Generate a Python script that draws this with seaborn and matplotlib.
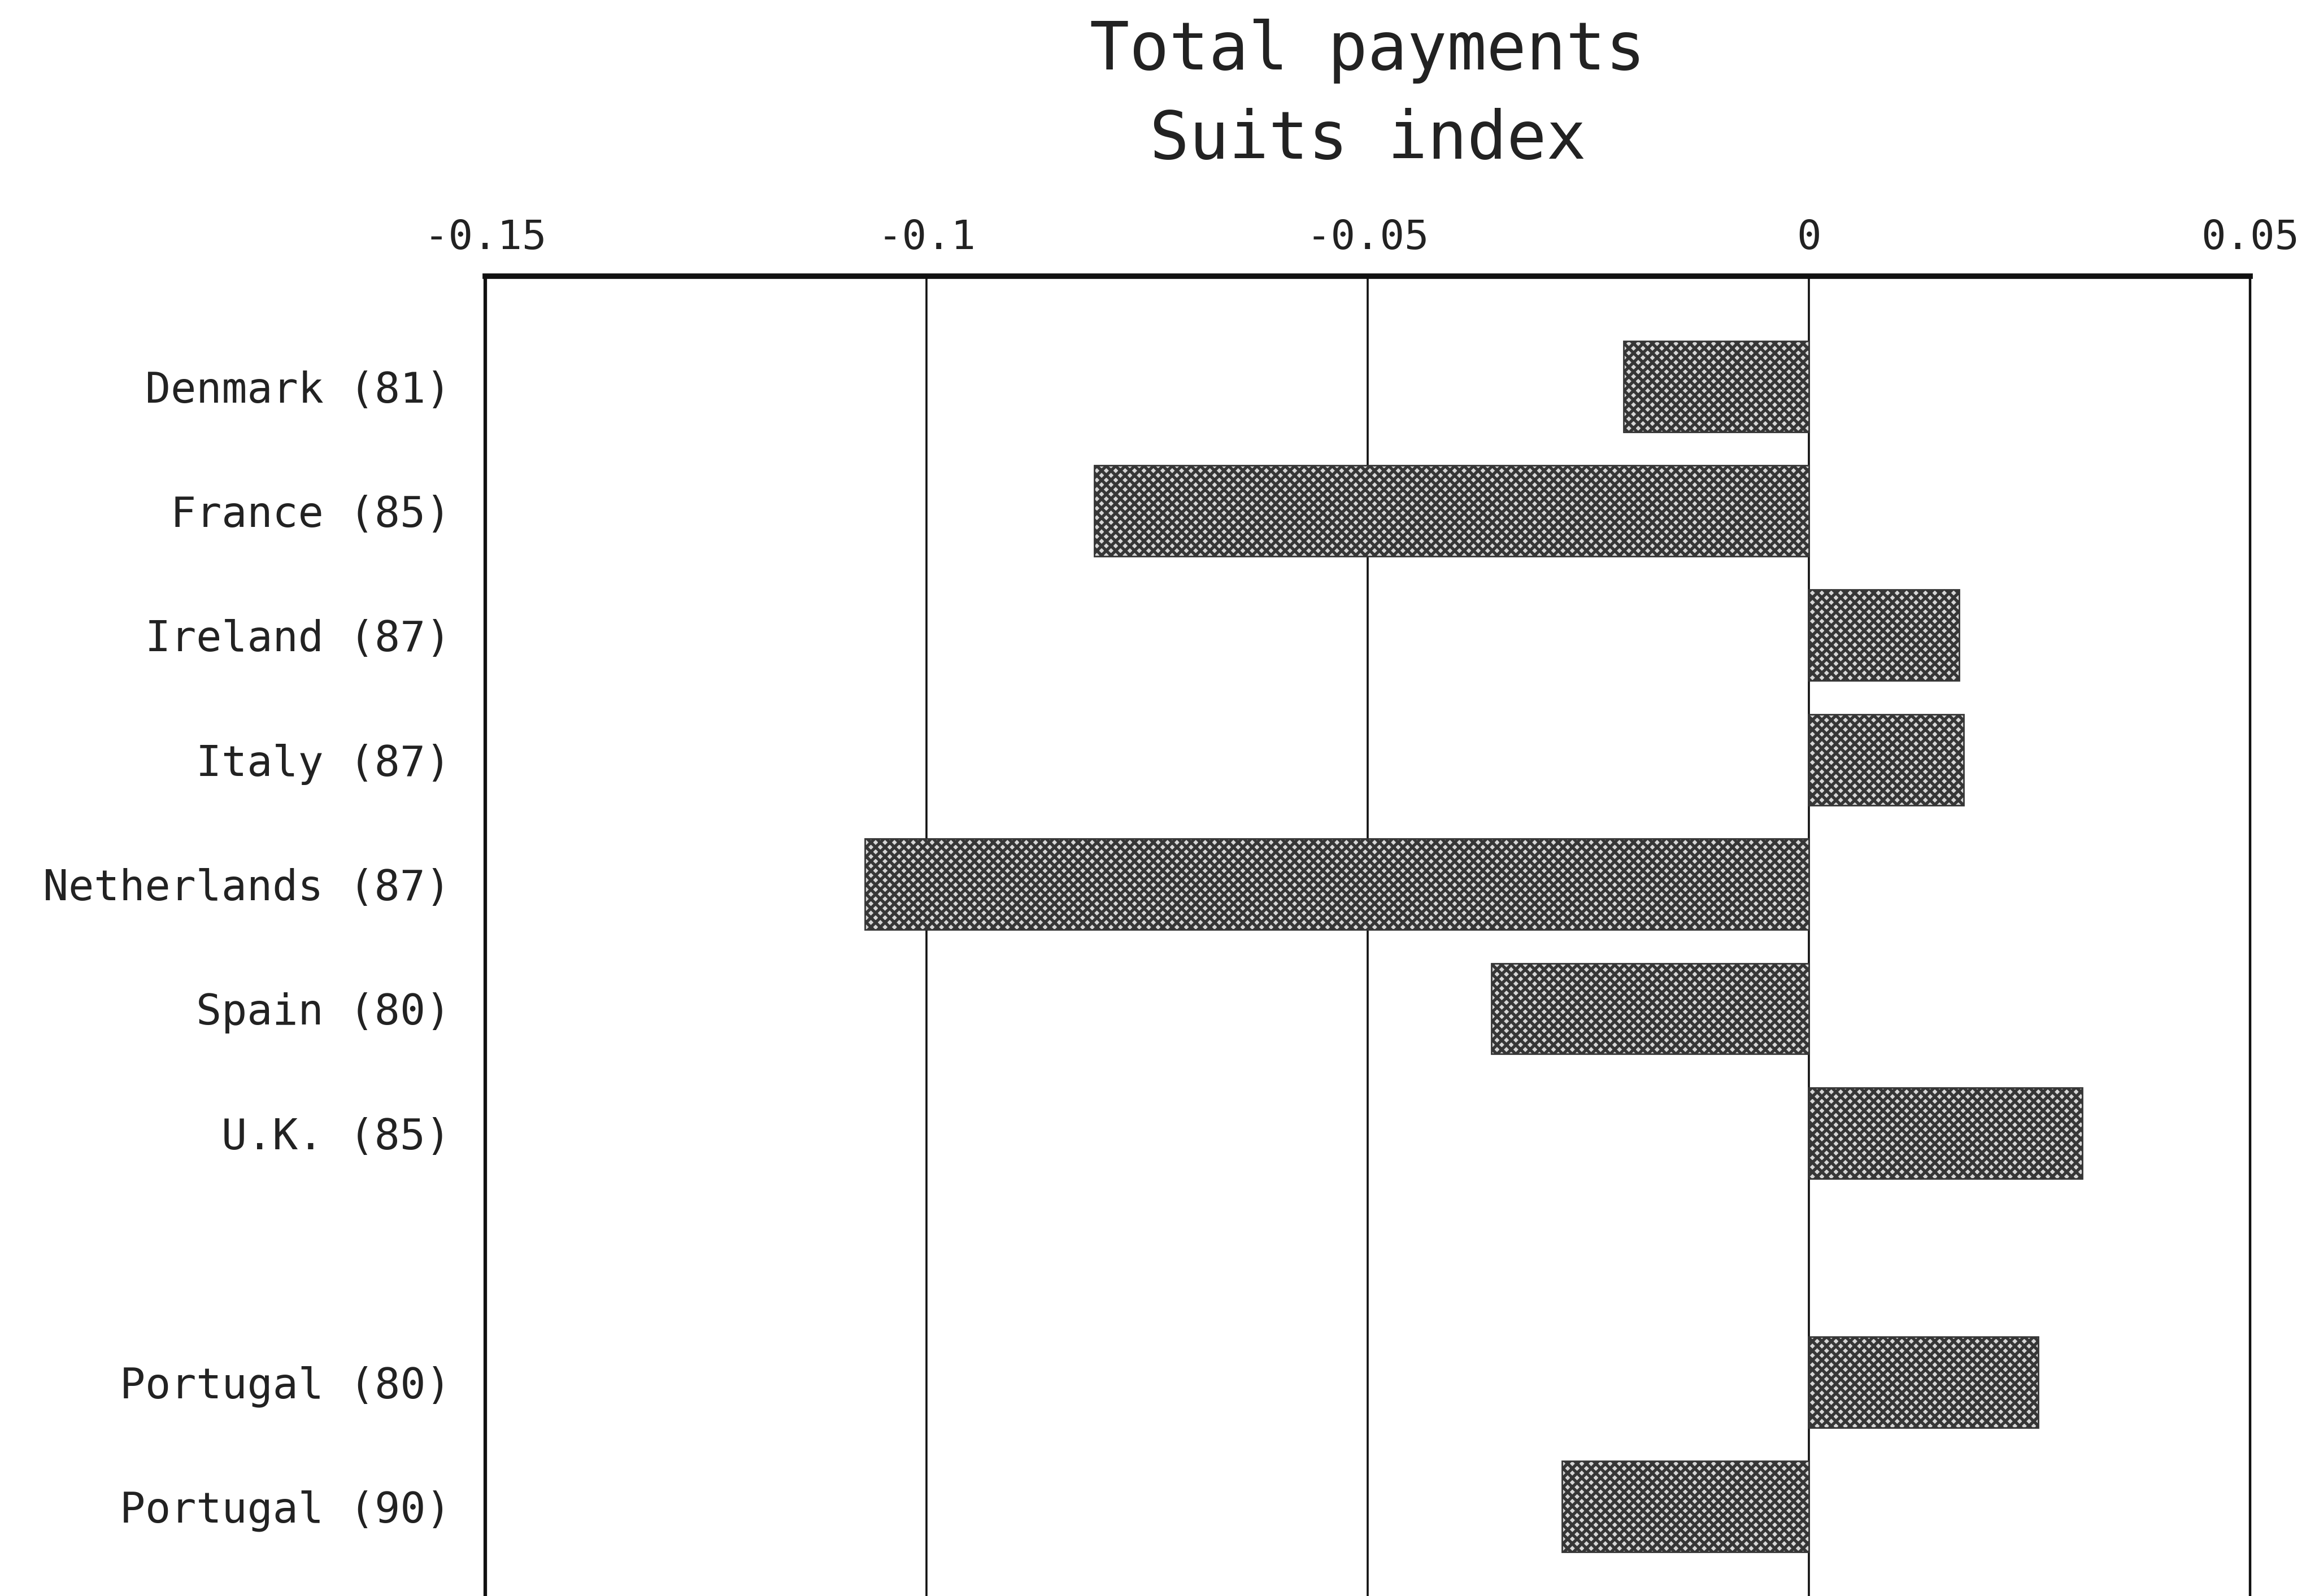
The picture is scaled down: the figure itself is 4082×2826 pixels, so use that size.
import matplotlib
matplotlib.use("Agg")
import matplotlib.pyplot as plt
import seaborn as sns
import pandas as pd

# ---- data ----
categories = ["Denmark (81)", "France (85)", "Ireland (87)", "Italy (87)",
              "Netherlands (87)", "Spain (80)", "U.K. (85)",
              "Portugal (80)", "Portugal (90)"]
suits_values = [-0.021, -0.081, 0.017, 0.0175, -0.107, -0.036, 0.031, 0.026, -0.028]
# display order (blank slot between U.K. and Portugal)
display_order = ["Denmark (81)", "France (85)", "Ireland (87)", "Italy (87)",
                 "Netherlands (87)", "Spain (80)", "U.K. (85)", " ",
                 "Portugal (80)", "Portugal (90)"]
x_ticks = [-0.15, -0.1, -0.05, 0, 0.05]
x_tick_labels = ["-0.15", "-0.1", "-0.05", "0", "0.05"]
title_text = "Total payments"
subtitle_text = "Suits index"

df = pd.DataFrame({"country": categories, "suits": suits_values})

DPI = 100
sns.set_theme(style="white")
plt.rcParams["font.family"] = ["DejaVu Sans Mono", "DejaVu Sans"]
plt.rcParams["hatch.linewidth"] = 3.9
plt.rcParams["hatch.color"] = "#363636"

fig = plt.figure(figsize=(4082 / DPI, 2826 / DPI), dpi=DPI)
fig.patch.set_facecolor("white")
ax = fig.add_axes([0.2105, -0.0129, 0.7653, 0.8398])

sns.barplot(data=df, x="suits", y="country", order=display_order, orient="h",
            color="#d6d6d6", width=0.73, edgecolor="#222222", linewidth=2.0,
            ax=ax)
for p in ax.patches:
    p.set_hatch("xx")
    p.set_edgecolor("#363636")

ax.set_xlim(-0.15, 0.05)
ax.set_ylim(9.885, -0.885)
ax.set_xticks(x_ticks)
ax.set_xticklabels(x_tick_labels)
ax.xaxis.tick_top()
ax.tick_params(axis="x", length=0, pad=24, labelsize=52, colors="#222222")
ax.tick_params(axis="y", length=0, pad=44, labelsize=54, colors="#222222")
ax.set_xlabel("")
ax.set_ylabel("")

ax.set_axisbelow(True)
ax.xaxis.grid(True, color="#111111", linewidth=2.6)
ax.yaxis.grid(False)

for side, lw in [("top", 7), ("left", 4.5), ("right", 3.2), ("bottom", 3.2)]:
    ax.spines[side].set_visible(True)
    ax.spines[side].set_color("#111111")
    ax.spines[side].set_linewidth(lw)

cx = 0.2105 + 0.7653 / 2
fig.text(cx, 0.968, title_text, ha="center", va="center", fontsize=84, color="#222222")
fig.text(cx, 0.912, subtitle_text, ha="center", va="center", fontsize=84, color="#222222")

fig.savefig("out.png", dpi=DPI, facecolor="white")
